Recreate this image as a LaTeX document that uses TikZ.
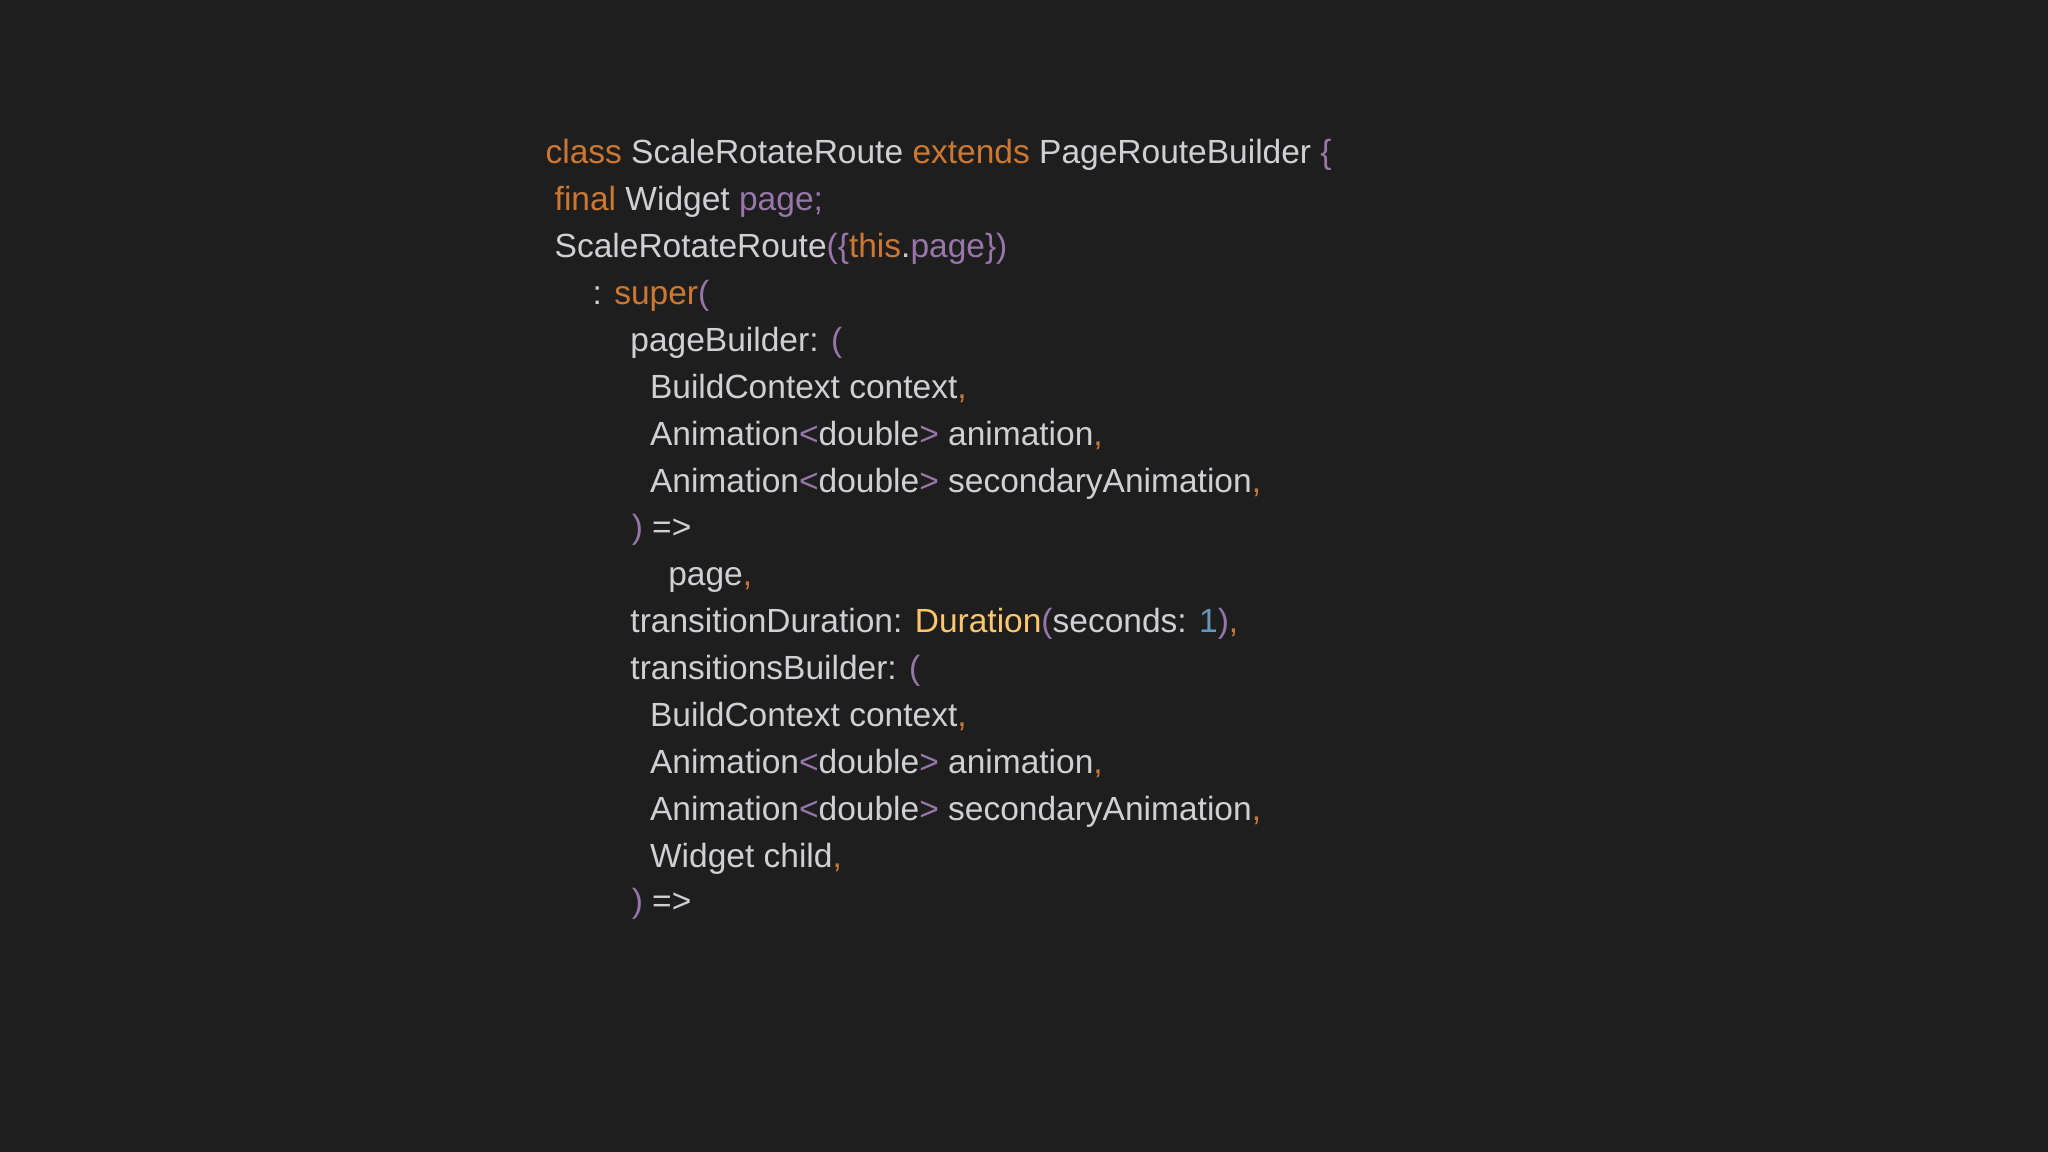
\documentclass[tikz,border=0pt]{standalone}
\usepackage{fontspec}
\setmainfont{Liberation Sans}
\definecolor{bgc}{HTML}{1E1E1E}
\definecolor{txc}{HTML}{CFCFD4}
\definecolor{kwc}{HTML}{CC7832}
\definecolor{puc}{HTML}{9876AA}
\definecolor{yec}{HTML}{FFC66D}
\definecolor{nmc}{HTML}{6897BB}
\newcommand\ckw[1]{\textcolor{kwc}{#1}}
\newcommand\cpu[1]{\textcolor{puc}{#1}}
\newcommand\cye[1]{\textcolor{yec}{#1}}
\newcommand\cnm[1]{\textcolor{nmc}{#1}}
\tikzset{codeline/.style={anchor=base west,inner sep=0pt,text=txc,font=\fontsize{7.3pt}{8pt}\selectfont}}
\begin{document}
\begin{tikzpicture}[x=0.1mm,y=-0.1mm]
\fill[bgc] (0,0) rectangle (1568,882);
\useasboundingbox (0,0) rectangle (1568,882);
\node[codeline] (l1) at (417,125) {\ckw{class} ScaleRotateRoute \ckw{extends} PageRouteBuilder \cpu{\{}};
\node[codeline] (l2) at (424,161) {\ckw{final} Widget \cpu{page;}};
\node[codeline] (l3) at (424,197) {ScaleRotateRoute\cpu{(\{}\ckw{this}.\cpu{page\})}};
\node[codeline] (l4) at (453,233) {: \ckw{super}\cpu{(}};
\node[codeline] (l5) at (482,269) {pageBuilder: \cpu{(}};
\node[codeline] (l6) at (497,305) {BuildContext context\ckw{,}};
\node[codeline] (l7) at (497,341) {Animation\cpu{<}double\cpu{>} animation\ckw{,}};
\node[codeline] (l8) at (497,377) {Animation\cpu{<}double\cpu{>} secondaryAnimation\ckw{,}};
\node[codeline] (l9) at (483,412) {\cpu{)} =>};
\node[codeline] (l10) at (511,448) {page\ckw{,}};
\node[codeline] (l11) at (482,484) {transitionDuration: \cye{Duration}\cpu{(}seconds: \cnm{1}\cpu{)}\ckw{,}};
\node[codeline] (l12) at (482,520) {transitionsBuilder: \cpu{(}};
\node[codeline] (l13) at (497,556) {BuildContext context\ckw{,}};
\node[codeline] (l14) at (497,592) {Animation\cpu{<}double\cpu{>} animation\ckw{,}};
\node[codeline] (l15) at (497,628) {Animation\cpu{<}double\cpu{>} secondaryAnimation\ckw{,}};
\node[codeline] (l16) at (497,664) {Widget child\ckw{,}};
\node[codeline] (l17) at (483,699) {\cpu{)} =>};
\end{tikzpicture}
\end{document}
